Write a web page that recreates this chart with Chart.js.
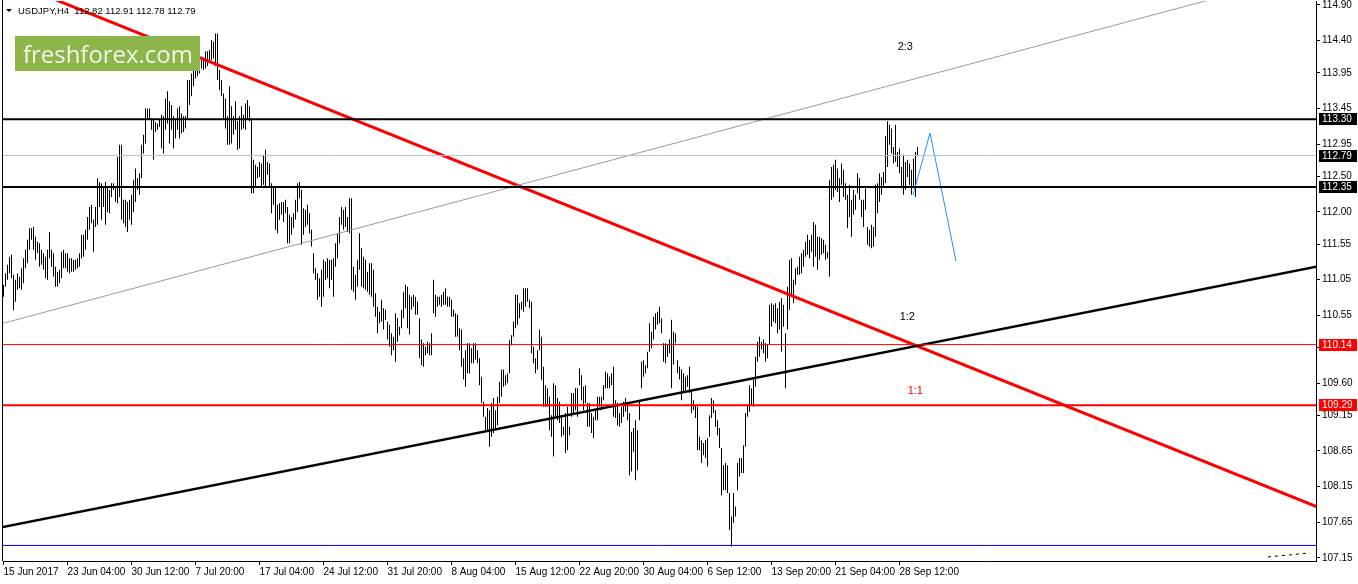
<!DOCTYPE html>
<html lang="en">
<head>
<meta charset="utf-8">
<title>USDJPY,H4</title>
<script src="https://cdn.jsdelivr.net/npm/chart.js@4.4.0/dist/chart.umd.min.js"></script>
<style>
  html, body { margin: 0; padding: 0; background: #fff; }
  #contenedor { width: 1358px; height: 584px; }
</style>
</head>
<body>
<div id="contenedor"><canvas id="graficaUSDJPY" width="1358" height="584"></canvas></div>
<script>
// Barras H4 (minimo / maximo)
const minimosBarras = [
  110.81,110.95,111.05,111.14,111.07,110.62,110.74,110.91,110.93,110.91,
  111.00,111.21,111.28,111.47,111.61,111.47,111.33,111.42,111.23,111.26,
  111.19,111.07,111.05,111.35,111.23,111.09,110.95,110.95,111.00,111.07,
  111.21,111.21,111.16,111.14,111.16,111.16,111.19,111.21,111.23,111.35,
  111.37,111.47,111.61,111.75,111.84,111.44,111.79,111.82,112.07,111.89,
  112.07,111.82,112.00,111.98,112.21,112.31,112.14,112.12,112.21,111.89,
  111.84,111.79,111.72,111.89,111.82,112.00,112.14,112.31,112.24,112.47,
  112.82,112.96,113.29,113.29,113.15,112.73,113.12,113.15,113.19,112.89,
  112.82,113.15,113.24,112.96,113.15,112.89,113.03,113.15,113.03,113.10,
  113.12,113.17,113.31,113.50,113.62,113.76,113.87,113.90,113.94,114.01,
  113.99,114.01,114.04,114.11,114.13,114.15,114.04,113.85,113.71,113.62,
  113.31,113.17,112.94,112.94,112.96,113.08,113.15,112.87,112.89,113.15,
  113.17,113.15,113.29,113.27,112.26,112.26,112.35,112.47,112.49,112.35,
  112.38,112.35,112.52,112.35,111.98,112.10,111.75,111.70,111.89,111.96,
  111.86,111.98,111.56,111.56,111.68,111.77,111.89,112.00,112.19,111.54,
  111.68,111.79,111.82,111.70,111.51,111.14,111.05,110.77,110.81,110.67,
  110.81,111.05,111.07,110.93,111.05,110.81,111.23,111.35,111.56,111.82,
  111.75,111.79,111.72,111.70,110.91,110.88,110.77,110.95,111.19,110.95,
  110.93,110.91,110.88,110.84,110.81,110.67,110.53,110.30,110.44,110.46,
  110.35,110.49,110.21,110.11,109.99,110.06,109.90,110.18,110.27,110.37,
  110.51,110.65,110.37,110.28,110.63,110.67,110.56,110.56,109.95,109.85,
  109.83,109.99,110.02,109.99,109.99,110.58,110.53,110.67,110.70,110.67,
  110.70,110.70,110.67,110.67,110.53,110.53,110.25,110.25,110.06,109.83,
  109.65,109.55,109.74,109.74,109.88,109.88,109.93,109.88,109.57,109.32,
  109.13,108.94,108.94,108.71,108.85,108.90,108.94,109.01,109.32,109.41,
  109.55,109.57,109.60,109.74,110.13,110.25,110.37,110.42,110.51,110.63,
  110.60,110.67,110.74,110.65,110.02,109.88,109.74,109.79,110.06,109.64,
  109.27,109.27,109.27,108.94,108.85,108.57,109.13,109.08,109.04,108.85,
  108.87,108.62,108.66,108.87,109.13,109.18,109.22,109.13,109.57,109.36,
  109.22,109.32,108.99,108.99,108.90,108.83,109.08,109.08,109.27,109.22,
  109.36,109.53,109.53,109.53,109.57,109.13,109.11,109.01,108.99,109.04,
  109.13,109.20,109.08,108.31,108.36,108.64,108.24,108.38,109.08,109.53,
  109.69,109.74,109.81,110.04,110.09,110.21,110.35,110.42,110.44,110.30,
  109.90,109.88,109.97,110.02,109.53,109.86,110.16,109.74,109.65,109.36,
  109.48,109.50,109.55,109.46,109.18,109.22,109.11,108.66,108.66,108.48,
  108.59,108.55,108.43,108.85,109.11,109.18,108.99,108.87,108.69,108.03,
  108.10,108.10,108.06,107.54,107.31,107.64,107.73,108.10,108.29,108.34,
  108.34,108.71,109.13,109.20,109.29,109.27,109.55,109.90,109.97,110.07,
  110.02,109.90,109.95,110.14,110.39,110.46,110.44,110.30,110.35,110.04,
  110.39,109.53,110.35,110.63,110.84,110.72,110.98,111.12,111.12,111.14,
  111.23,111.37,111.40,111.35,111.44,111.23,111.37,111.19,111.33,111.40,
  111.42,111.33,111.35,111.09,112.17,112.21,112.31,112.28,112.14,112.38,
  112.21,112.17,111.77,111.93,111.65,111.96,112.03,112.26,112.17,111.93,
  111.79,112.03,111.54,111.51,111.49,111.51,111.65,111.98,112.14,112.24,
  112.35,112.40,112.63,112.94,112.82,112.68,112.70,112.63,112.54,112.33,
  112.24,112.31,112.49,112.38,112.24,112.33,112.21,112.78
];
const maximosBarras = [
  110.98,111.14,111.26,111.37,111.40,111.12,111.05,111.14,111.09,111.21,
  111.35,111.47,111.61,111.77,111.77,111.79,111.65,111.58,111.56,111.47,
  111.42,111.37,111.47,111.72,111.47,111.42,111.23,111.16,111.19,111.44,
  111.47,111.42,111.42,111.35,111.35,111.33,111.33,111.35,111.42,111.68,
  111.68,111.75,111.93,112.07,112.10,111.89,112.07,112.47,112.42,112.40,
  112.35,112.42,112.35,112.31,112.40,112.40,112.33,112.77,112.94,112.94,
  112.17,112.17,112.14,112.17,112.24,112.45,112.61,112.47,112.54,112.94,
  113.08,113.45,113.45,113.45,113.31,113.29,113.26,113.24,113.29,113.36,
  113.34,113.59,113.69,113.55,113.50,113.34,113.29,113.45,113.48,113.38,
  113.34,113.34,113.85,113.85,113.94,113.99,114.01,114.13,114.18,114.15,
  114.13,114.25,114.25,114.27,114.41,114.39,114.50,114.50,113.99,113.85,
  113.66,113.59,113.34,113.76,113.48,113.34,113.55,113.27,113.34,113.48,
  113.36,113.52,113.57,113.48,113.31,112.73,112.66,112.63,112.70,112.68,
  112.80,112.87,112.70,112.68,112.40,112.35,112.33,112.10,112.12,112.14,
  112.14,112.17,112.07,111.96,111.93,111.98,112.17,112.40,112.42,112.31,
  112.05,112.03,112.10,111.98,111.75,111.42,111.21,111.14,111.07,111.19,
  111.33,111.30,111.35,111.33,111.33,111.35,111.56,111.70,111.93,112.07,
  112.03,112.07,111.93,112.19,112.19,111.23,111.12,111.33,111.70,111.49,
  111.37,111.33,111.16,111.28,111.28,111.19,110.86,110.67,110.60,110.77,
  110.65,110.63,110.46,110.42,110.30,110.25,110.58,110.51,110.39,110.63,
  110.88,110.98,110.95,110.84,110.81,110.84,110.81,110.74,110.51,110.21,
  110.16,110.11,110.18,110.16,110.30,111.05,110.84,110.81,110.81,110.84,
  110.88,110.93,110.81,110.81,110.77,110.63,110.58,110.56,110.37,110.35,
  109.95,110.06,110.16,110.16,110.09,110.16,110.16,110.06,109.95,109.69,
  109.34,109.13,109.25,109.22,109.32,109.39,109.22,109.41,109.62,109.79,
  109.79,109.71,109.74,110.20,110.27,110.46,110.84,110.84,110.72,110.74,
  110.93,110.93,110.93,110.77,110.74,110.11,109.95,110.06,110.35,110.25,
  109.83,109.57,109.53,109.41,109.15,109.60,109.57,109.39,109.34,109.13,
  108.99,109.18,109.27,108.99,109.46,109.46,109.53,109.53,109.81,109.71,
  109.55,109.57,109.32,109.32,109.18,109.13,109.22,109.41,109.41,109.41,
  109.57,109.76,109.74,109.69,109.74,109.83,109.36,109.32,109.18,109.27,
  109.34,109.39,109.29,109.18,108.92,108.97,109.08,108.94,109.34,109.90,
  109.92,109.85,110.04,110.44,110.32,110.53,110.58,110.60,110.67,110.51,
  110.16,110.16,110.14,110.21,110.49,110.32,110.30,109.92,109.83,109.79,
  109.74,109.69,109.71,109.83,109.50,109.36,109.29,109.27,108.85,108.80,
  108.76,108.80,108.83,109.15,109.39,109.36,109.22,109.08,108.97,108.69,
  108.45,108.48,108.45,108.06,107.73,108.06,107.87,108.48,108.55,108.55,
  108.73,109.18,109.29,109.57,109.53,109.65,109.97,110.18,110.25,110.18,
  110.21,110.16,110.14,110.70,110.72,110.70,110.72,110.65,110.74,110.79,
  110.70,110.30,110.95,111.33,111.35,111.05,111.21,111.23,111.37,111.42,
  111.47,111.58,111.68,111.61,111.68,111.86,111.82,111.65,111.65,111.63,
  111.61,111.54,111.44,112.45,112.63,112.66,112.73,112.61,112.47,112.68,
  112.59,112.40,112.24,112.38,112.17,112.31,112.24,112.54,112.47,112.17,
  112.17,112.33,111.79,111.75,111.82,111.79,112.38,112.40,112.54,112.49,
  112.56,113.06,113.27,113.22,113.17,112.91,113.22,112.84,112.89,112.63,
  112.80,112.70,112.73,112.68,112.59,112.75,112.84,112.91
];

const etiquetasTiempo = ['15 Jun 2017', '23 Jun 04:00', '30 Jun 12:00', '7 Jul 20:00', '17 Jul 04:00',
  '24 Jul 12:00', '31 Jul 20:00', '8 Aug 04:00', '15 Aug 12:00', '22 Aug 20:00', '30 Aug 04:00',
  '6 Sep 12:00', '13 Sep 20:00', '21 Sep 04:00', '28 Sep 12:00'];
const barrasEtiqueta = [0, 32, 64, 96, 128, 160, 192, 224, 256, 288, 320, 352, 384, 416, 448];
const valoresEjeY = [114.90, 114.40, 113.95, 113.45, 112.95, 112.50, 112.00, 111.55, 111.05,
  110.55, 110.10, 109.60, 109.15, 108.65, 108.15, 107.65, 107.15];

const ultimaBarra = { apertura: 112.82, maximo: 112.91, minimo: 112.78, cierre: 112.79 };

// Objetos dibujados sobre el grafico (barra, precio)
const lineaRoja = [{ x: -2, y: 115.29 }, { x: 656.5, y: 107.87 }];
const lineaNegra = [{ x: -2, y: 107.573 }, { x: 656.5, y: 111.234 }];
const lineaGris = [{ x: -2, y: 110.425 }, { x: 656.5, y: 115.375 }];
const proyeccionAzul = [{ x: 454.75, y: 112.237 }, { x: 463.25, y: 113.106 }, { x: 476.25, y: 111.312 }];
const lineaPunteada = [{ x: 632.25, y: 107.164 }, { x: 653.25, y: 107.22 }];
const nivelesHorizontales = [
  { precio: 113.30, color: '#000000', ancho: 2 },
  { precio: 112.35, color: '#000000', ancho: 2 },
  { precio: 112.79, color: '#c0c0c0', ancho: 1 },
  { precio: 110.14, color: '#ff0000', ancho: 1 },
  { precio: 109.29, color: '#ff0000', ancho: 2 },
  { precio: 107.325, color: '#0000ff', ancho: 1 }
];
const etiquetasPrecio = [
  { precio: 113.30, fondo: '#000000' },
  { precio: 112.79, fondo: '#000000' },
  { precio: 112.35, fondo: '#000000' },
  { precio: 110.14, fondo: '#ff0000' },
  { precio: 109.29, fondo: '#ff0000' }
];
const textosProporcion = [
  { texto: '2:3', barra: 450.9, precio: 114.31, color: '#000000' },
  { texto: '1:2', barra: 451.9, precio: 110.53, color: '#000000' },
  { texto: '1:1', barra: 455.9, precio: 109.49, color: '#ff0000' }
];

const X_MIN = -0.25, X_MAX = 656.25;
const Y_MIN = 107.107, Y_MAX = 114.956;
const FUENTE = '"Liberation Sans", Arial, sans-serif';

function lineaDataset(puntos, color, ancho, guiones) {
  return {
    type: 'line', data: puntos, borderColor: color, borderWidth: ancho,
    borderDash: guiones || [], pointRadius: 0, fill: false, tension: 0, order: 1
  };
}

const pluginAnotaciones = {
  id: 'anotaciones',
  afterDraw(chart) {
    const { ctx, chartArea } = chart;
    const x = chart.scales.x, y = chart.scales.y;
    ctx.save();

    // marco izquierdo
    ctx.fillStyle = '#000';
    ctx.fillRect(2, 0, 1, chartArea.bottom);

    // textos 2:3, 1:2, 1:1
    ctx.font = '11px ' + FUENTE;
    ctx.textAlign = 'center';
    ctx.textBaseline = 'middle';
    textosProporcion.forEach(t => {
      ctx.fillStyle = t.color;
      ctx.fillText(t.texto, x.getPixelForValue(t.barra), y.getPixelForValue(t.precio));
    });

    // etiquetas de precio en el eje derecho
    ctx.font = '10px ' + FUENTE;
    ctx.textAlign = 'left';
    etiquetasPrecio.forEach(e => {
      const py = Math.round(y.getPixelForValue(e.precio));
      ctx.fillStyle = e.fondo;
      ctx.fillRect(chartArea.right + 3, py - 6, 38, 12);
      ctx.fillStyle = '#fff';
      ctx.fillText(e.precio.toFixed(2), chartArea.right + 6, py + 0.5);
    });

    // cabecera
    ctx.fillStyle = '#000';
    ctx.beginPath();
    ctx.moveTo(6, 9); ctx.lineTo(12, 9); ctx.lineTo(9, 12); ctx.closePath();
    ctx.fill();
    ctx.font = '9.5px ' + FUENTE;
    ctx.fillText('USDJPY,H4  ' + [ultimaBarra.apertura, ultimaBarra.maximo, ultimaBarra.minimo, ultimaBarra.cierre]
      .map(v => v.toFixed(2)).join(' '), 18, 11);

    // logo
    ctx.fillStyle = '#8cb54a';
    ctx.fillRect(15, 36, 185, 35);
    ctx.font = '26px "Open Sans", sans-serif';
    const ancho = ctx.measureText('freshforex.com').width;
    ctx.font = (26 * 170 / ancho).toFixed(2) + 'px "Open Sans", sans-serif';
    ctx.fillStyle = '#f3f6e8';
    ctx.textBaseline = 'alphabetic';
    ctx.fillText('freshforex.com', 23, 63);

    ctx.restore();
  }
};

function dibujarGrafica() {
  const ctx = document.getElementById('graficaUSDJPY').getContext('2d');
  const datosBarras = minimosBarras.map((m, i) => ({ x: i, y: [m, maximosBarras[i]] }));

  const datasets = [
    {
      type: 'bar', data: datosBarras, backgroundColor: '#000', borderWidth: 0,
      barThickness: 1, inflateAmount: 0, order: 5
    },
    ...nivelesHorizontales.map(n => lineaDataset([{ x: X_MIN, y: n.precio }, { x: X_MAX, y: n.precio }], n.color, n.ancho)),
    lineaDataset(lineaGris, '#9a9a9a', 1),
    lineaDataset(lineaNegra, '#000000', 2.5),
    lineaDataset(lineaRoja, '#ff0000', 3),
    lineaDataset(proyeccionAzul, '#1e90ff', 1),
    lineaDataset(lineaPunteada, '#000000', 1, [3, 4])
  ];

  new Chart(ctx, {
    type: 'bar',
    data: { datasets },
    plugins: [pluginAnotaciones],
    options: {
      responsive: false,
      animation: false,
      events: [],
      layout: { padding: { left: 3, top: 1, right: 0, bottom: 0 } },
      plugins: { legend: { display: false }, tooltip: { enabled: false } },
      scales: {
        x: {
          type: 'linear', min: X_MIN, max: X_MAX, offset: false,
          grid: { drawOnChartArea: false, offset: false, tickLength: 4, tickColor: '#000' },
          border: { color: '#000' },
          afterBuildTicks: s => { s.ticks = barrasEtiqueta.map(v => ({ value: v })); },
          afterFit: s => { s.height = 23; s.paddingLeft = 0; s.paddingRight = 0; },
          ticks: {
            autoSkip: false, maxRotation: 0, align: 'start', padding: 1, color: '#000',
            font: { family: FUENTE, size: 10 },
            callback: v => etiquetasTiempo[barrasEtiqueta.indexOf(v)]
          }
        },
        y: {
          type: 'linear', position: 'right', min: Y_MIN, max: Y_MAX,
          grid: { drawOnChartArea: false, tickLength: 4, tickColor: '#000' },
          border: { color: '#000' },
          afterBuildTicks: s => { s.ticks = valoresEjeY.map(v => ({ value: v })); },
          afterFit: s => { s.width = 42; s.paddingTop = 0; s.paddingBottom = 0; },
          ticks: {
            autoSkip: false, padding: 2, color: '#000',
            font: { family: FUENTE, size: 10 },
            callback: v => v.toFixed(2)
          }
        }
      }
    }
  });
}

document.addEventListener('DOMContentLoaded', dibujarGrafica);
</script>
</body>
</html>
